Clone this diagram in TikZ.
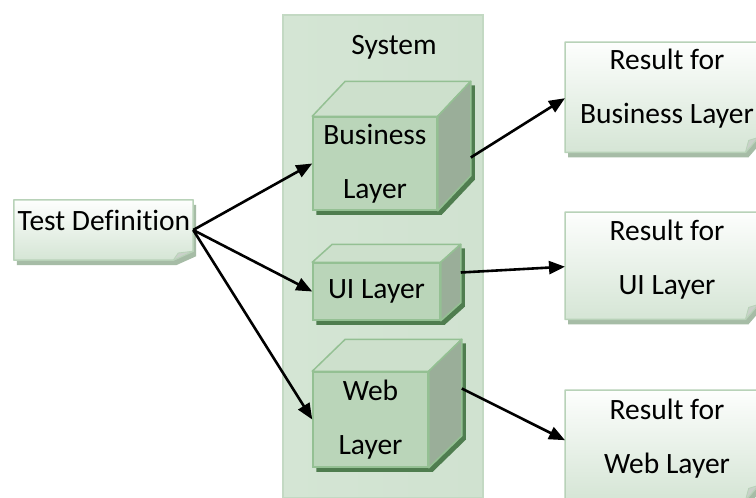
\documentclass[tikz,border=0pt]{standalone}
\usepackage{fontspec}
\setmainfont{Carlito}[Ligatures=NoCommon]
\usetikzlibrary{arrows.meta,calc}
\definecolor{sysA}{HTML}{D4E5D4}
\definecolor{sysB}{HTML}{EEF5EE}
\definecolor{sysC}{HTML}{D0E2D0}
\definecolor{sysBorder}{HTML}{C3D9C3}
\definecolor{cubeFrontA}{HTML}{BAD5B9}
\definecolor{cubeFrontB}{HTML}{9CC29B}
\definecolor{cubeTop}{HTML}{CDE0CC}
\definecolor{cubeRight}{HTML}{9AAE99}
\definecolor{cubeBorder}{HTML}{94C093}
\definecolor{cubeShadow}{HTML}{4F7D4F}
\definecolor{noteTop}{HTML}{FDFEFD}
\definecolor{noteBottom}{HTML}{D5E5D5}
\definecolor{noteBorder}{HTML}{B8D2B8}
\definecolor{noteShadow}{HTML}{A6BCA6}
\definecolor{noteFold}{HTML}{C9D1C9}
\pgfdeclarelayer{back}
\pgfdeclarelayer{shadowlayer}
\pgfsetlayers{back,shadowlayer,main}
\newcommand\drawcube[3]{%
  \begin{pgfonlayer}{shadowlayer}
  \fill[cubeShadow] ($(#1.north west)+(4,4)$) -- ($(#1.north west)+(#2+4,4-#3)$)
    -- ($(#1.north east)+(#2+4,4-#3)$) -- ($(#1.south east)+(#2+4,4-#3)$)
    -- ($(#1.south east)+(4,4)$) -- ($(#1.south west)+(4,4)$) -- cycle;
  \end{pgfonlayer}
  \filldraw[cubetopface] (#1.north west) -- ($(#1.north west)+(#2,-#3)$)
    -- ($(#1.north east)+(#2,-#3)$) -- (#1.north east) -- cycle;
  \filldraw[cuberightface] (#1.north east) -- ($(#1.north east)+(#2,-#3)$)
    -- ($(#1.south east)+(#2,-#3)$) -- (#1.south east) -- cycle;
}
\newcommand\drawnote[3]{%
  \fill[noteShadow] ($(#1.north west)+(3,5)$) -- ($(#1.north east)+(3,5)$)
    -- ($(#1.south east)+(3,5-#3)$) -- ($(#1.south east)+(3-#2,5)$)
    -- ($(#1.south west)+(3,5)$) -- cycle;
  \path[notebody] (#1.north west) -- (#1.north east)
    -- ($(#1.south east)+(0,-#3)$) -- ($(#1.south east)+(-#2,0)$)
    -- (#1.south west) -- cycle;
  \filldraw[notefold] ($(#1.south east)+(0,-#3)$) -- ($(#1.south east)+(-#2,0)$)
    -- ($(#1.south east)+(-0.75*#2,-0.8*#3)$) -- cycle;
}
\begin{document}
\begin{tikzpicture}[x=1pt,y=-1pt,
  txt/.style={font=\fontsize{29.5}{54}\selectfont, align=center, inner sep=0pt},
  area/.style={draw=none, inner sep=0pt},
  container/.style={draw=sysBorder, line width=1.5pt, left color=sysA, middle color=sysB, right color=sysC, inner sep=0pt},
  cubefront/.style={draw=cubeBorder, line width=1.5pt, top color=cubeFrontA, middle color=cubeFrontB, bottom color=cubeFrontA, inner sep=0pt, font=\fontsize{29.5}{54}\selectfont, align=center},
  cubetopface/.style={fill=cubeTop, draw=cubeBorder, line width=1.5pt, line join=round},
  cuberightface/.style={fill=cubeRight, draw=cubeBorder, line width=1.5pt, line join=round},
  notebody/.style={top color=noteTop, bottom color=noteBottom, draw=noteBorder, line width=1.5pt, line join=round},
  notefold/.style={fill=noteFold, draw=noteBorder, line width=0.8pt, line join=round},
  arr/.style={line width=2.6pt, -{Triangle[length=16pt,width=13pt]}}
]
\useasboundingbox (0,0) rectangle (756,498);
\clip (0,0) rectangle (756,498);

% System container
\begin{pgfonlayer}{back}
\fill[white] (0,0) rectangle (756,498);
\node[container, anchor=north west, minimum width=200pt, minimum height=483pt] (sys) at (282,14) {};
\end{pgfonlayer}
\node[txt] (syst) at (394,47) {System};

% Cubes
\node[cubefront, minimum width=124pt, minimum height=93pt] (bl) at (375,163.5) {Business\\Layer};
\drawcube{bl}{33}{35}
\node[cubefront, minimum width=127pt, minimum height=57pt] (ui) at (376.5,291.5) {\raisebox{5pt}{UI Layer}};
\drawcube{ui}{20}{18}
\node[cubefront, minimum width=115pt, minimum height=95pt] (web) at (370.5,419.5) {Web\\Layer};
\drawcube{web}{33}{32}

% Test definition note
\node[area, minimum width=179pt, minimum height=60pt] (td) at (103.5,230) {};
\drawnote{td}{20}{9}
\node[txt] (tdt) at (104,220) {Test Definition};

% Result notes
\node[area, anchor=north west, minimum width=193pt, minimum height=110pt] (r1) at (565,42) {};
\drawnote{r1}{13}{15}
\node[txt] (r1t) at (667,89) {Result for\\Business Layer};

\node[area, anchor=north west, minimum width=193pt, minimum height=107pt] (r2) at (565,212) {};
\drawnote{r2}{13}{15}
\node[txt] (r2t) at (667,259.5) {Result for\\UI Layer};

\node[area, anchor=north west, minimum width=193pt, minimum height=110pt] (r3) at (565,390) {};
\drawnote{r3}{13}{15}
\node[txt] (r3t) at (667,438.5) {Result for\\Web Layer};

% Connectors
\coordinate (blout) at ($(bl.east)+(33,-6)$);
\coordinate (uiout) at ($(ui.east)+(20,-19)$);
\coordinate (webout) at ($(web.east)+(33,-31)$);
\draw[arr] (td.east) -- (bl.west);
\draw[arr] (td.east) -- (ui.west);
\draw[arr] (td.east) -- (web.west);
\draw[arr] (blout) -- ($(r1.west)+(0,1)$);
\draw[arr] (uiout) -- ($(r2.west)+(0,1)$);
\draw[arr] (webout) -- ($(r3.west)+(0,-5)$);
\end{tikzpicture}
\end{document}
